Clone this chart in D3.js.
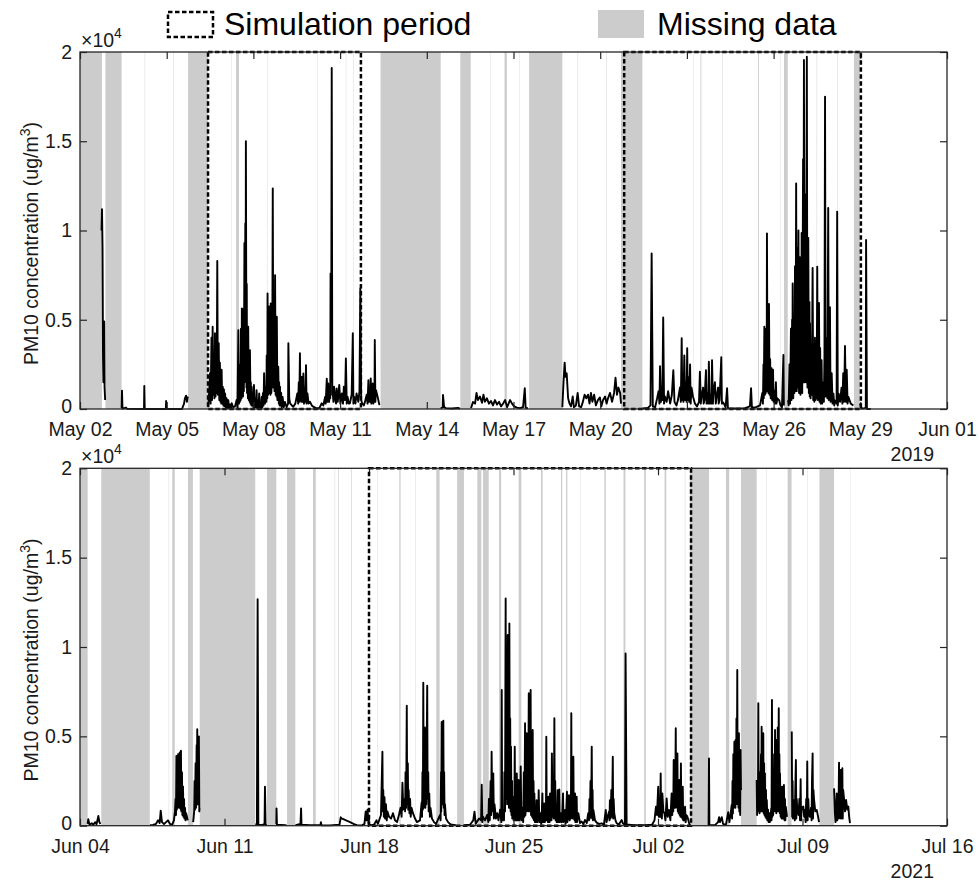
<!DOCTYPE html>
<html>
<head>
<meta charset="utf-8">
<script src="https://cdn.jsdelivr.net/npm/d3@7"></script>
<style>
  body { margin: 0; background: #fff; }
  svg { display: block; font-family: "Liberation Sans", Arial, Helvetica, sans-serif; }
  .tick text { fill: #1a1a1a; font-size: 19.5px; }
  .tick line { stroke: #262626; stroke-width: 1.2px; }
</style>
</head>
<body>
<svg id="chart" width="979" height="884"></svg>
<script>

// tick dates for each panel (first and last also give the x domain)
var ticks2019 = ["2019-05-02","2019-05-05","2019-05-08","2019-05-11","2019-05-14","2019-05-17",
                 "2019-05-20","2019-05-23","2019-05-26","2019-05-29","2019-06-01"];
var ticks2021 = ["2021-06-04","2021-06-11","2021-06-18","2021-06-25","2021-07-02","2021-07-09","2021-07-16"];
var yTicks = [0, 5000, 10000, 15000, 20000];

// simulation periods, [start, end] in days after the first tick
var sim2019 = [[4.43, 9.72], [18.83, 27.02]];
var sim2021 = [[14.0, 29.6]];

// missing data intervals, days after the first tick
var gaps2019 = [[0,0.76],[0.88,1.44],[2.24,2.252],[3.22,3.235],[3.74,4.43],[5.24,5.252],[5.40,5.50],[6.47,6.482],
  [8.2,8.212],[9.2,9.212],[9.45,9.462],[10.40,12.48],[13.16,13.52],[14.21,14.222],[14.69,14.77],[15.2,15.212],
  [15.54,16.69],[17.22,17.235],[18.22,18.235],[18.72,19.46],[21.21,21.222],[21.47,21.5],[22.22,22.235],
  [23.46,23.49],[24.22,24.232],[24.36,24.49],[25.49,25.505],[26.2,26.215],[26.78,26.99]];
var gaps2021 = [[0,0.37],[1.03,3.38],[4.3,4.317],[4.47,4.59],[5.23,5.47],[5.80,8.49],[9.06,9.51],[10.03,10.43],
  [11.29,11.42],[12.34,12.357],[12.5,12.53],[13.14,13.17],[14.39,14.407],[15.47,15.53],[16.24,16.257],[17.26,17.42],
  [18.27,18.6],[19.25,19.44],[19.52,19.8],[20.3,20.4],[21.25,21.38],[22.33,22.41],[23.3,23.36],[23.55,23.61],
  [24.22,24.237],[25.4,25.47],[26.33,26.42],[27.33,27.41],[28.32,28.4],[29.3,29.32],[29.55,30.47],[31.29,31.45],
  [32.02,32.78],[33.26,33.277],[34.28,34.47],[35.25,35.267],[35.82,36.53],[37.3,37.312]];

// PM10 (ug/m3), [day after first tick, value]; null = break in record
var pm2019 = [[0.744,10000],[0.761,11200],[0.78,9000],[0.796,3000],[0.81,1500],[0.837,4900],[0.85,1200],[0.87,500],[0.875,null],
  [1.44,50],[1.453,1030],[1.47,20],[1.59,80],[1.63,10],[2.215,0],[2.225,1290],[2.24,0],[2.97,0],[2.98,450],[2.995,0],
  [3.53,0],[3.6,300],[3.63,600],[3.67,750],[3.7,400],[3.73,700],[3.735,null],
  [4.44,100],[4.5,2000],[4.52,300],[4.55,4000],[4.57,500],[4.59,4610],[4.61,800],[4.63,3000],[4.65,600],[4.67,4250],
  [4.69,700],[4.71,3680],[4.73,900],[4.75,8300],[4.77,800],[4.8,3680],[4.82,500],[4.84,2600],[4.86,400],[4.87,1800],
  [4.89,300],[4.9,2200],[4.92,300],[4.94,1250],[4.96,200],[4.98,1100],[5.0,150],[5.02,870],[5.05,100],[5.07,600],
  [5.1,50],[5.13,500],[5.16,50],[5.19,250],[5.22,30],[5.25,320],[5.3,100],[5.36,130],
  [5.42,500],[5.45,100],[5.48,4420],[5.5,300],[5.51,2500],[5.53,400],[5.54,1060],[5.56,500],[5.57,4500],[5.59,600],
  [5.6,5640],[5.62,800],[5.63,4000],[5.64,700],[5.65,5600],[5.67,1000],[5.69,9300],[5.7,1500],[5.72,10400],[5.73,2000],
  [5.74,15000],[5.76,1200],[5.77,7000],[5.78,900],[5.79,3500],[5.81,600],[5.82,4610],[5.84,500],[5.85,2500],[5.87,400],
  [5.88,3300],[5.9,300],[5.91,1500],[5.93,200],[5.94,1250],[5.96,200],[5.98,800],[6.0,100],[6.02,1350],[6.04,100],
  [6.06,600],[6.09,100],[6.11,1060],[6.13,50],[6.15,500],[6.18,50],[6.2,870],[6.23,50],[6.25,400],[6.27,50],[6.29,680],
  [6.31,100],[6.33,900],[6.35,200],[6.37,2000],[6.4,300],[6.43,1250],[6.45,400],[6.46,3000],[6.48,600],[6.49,6480],
  [6.51,800],[6.52,3500],[6.54,900],[6.55,5740],[6.57,1000],[6.58,4000],[6.59,800],[6.6,5920],[6.62,900],[6.63,1250],
  [6.65,1500],[6.67,12360],[6.69,1200],[6.71,5000],[6.73,1000],[6.75,7500],[6.77,800],[6.78,3000],[6.8,700],[6.81,5170],
  [6.83,500],[6.86,2370],[6.88,300],[6.89,1500],[6.91,200],[6.92,1250],[6.94,200],[6.96,900],[6.98,100],[7.01,680],
  [7.05,100],[7.09,400],[7.15,100],[7.2,300],[7.21,3680],[7.24,600],[7.27,320],[7.33,200],[7.38,130],[7.45,300],
  [7.52,870],[7.55,300],[7.57,1500],[7.59,400],[7.61,3120],[7.63,500],[7.64,1500],[7.66,400],[7.67,1800],[7.7,400],
  [7.73,1990],[7.75,300],[7.77,1200],[7.8,400],[7.82,2460],[7.84,300],[7.87,870],[7.91,300],[7.96,400],[8.02,200],
  [8.07,130],[8.15,60],[8.25,30],[8.3,100],[8.36,320],[8.42,200],[8.48,680],[8.5,300],[8.54,1700],[8.56,400],[8.59,1430],
  [8.62,400],[8.64,1000],[8.66,600],[8.67,7600],[8.69,1500],[8.71,19100],[8.73,800],[8.74,1000],[8.77,400],[8.79,1250],
  [8.83,600],[8.86,300],[8.88,1150],[8.92,400],[8.97,1350],[9.01,300],[9.06,870],[9.1,300],[9.13,1250],[9.17,500],
  [9.2,2830],[9.23,300],[9.26,680],[9.3,300],[9.34,320],[9.4,800],[9.44,4240],[9.46,300],[9.49,680],[9.53,300],[9.57,870],
  [9.63,400],[9.67,1000],[9.7,6760],[9.73,500],[9.76,320],[9.82,200],[9.86,400],[9.92,800],[9.95,300],[9.98,1620],
  [10.0,400],[10.02,900],[10.04,400],[10.06,1710],[10.08,300],[10.1,1000],[10.12,400],[10.13,1430],[10.15,300],
  [10.17,800],[10.19,400],[10.2,3870],[10.22,400],[10.24,1060],[10.3,680],[10.36,220],[10.39,null],
  [12.48,30],[12.55,100],[12.56,790],[12.6,100],[12.66,50],[12.87,30],[13.08,60],[13.15,20],[13.155,null],
  [13.53,50],[13.6,400],[13.67,300],[13.72,900],[13.77,500],[13.84,700],[13.91,350],[13.96,800],[14.01,400],[14.08,600],
  [14.15,300],[14.22,450],[14.29,200],[14.36,500],[14.43,250],[14.5,400],[14.57,150],[14.64,300],[14.71,500],[14.78,100],
  [14.88,500],[14.95,300],[15.02,150],[15.12,80],[15.22,50],[15.33,100],[15.39,1160],[15.42,60],[15.5,40],[15.53,null],
  [16.69,100],[16.73,1500],[16.77,2600],[16.8,1800],[16.84,2000],[16.89,600],[16.94,300],[16.99,150],[17.05,700],
  [17.09,100],[17.16,200],[17.22,900],[17.27,150],[17.34,100],[17.4,400],[17.46,800],[17.52,600],[17.58,800],[17.63,300],
  [17.68,900],[17.73,400],[17.79,800],[17.85,200],[17.92,500],[17.99,650],[18.04,150],[18.1,500],[18.17,700],[18.22,300],
  [18.27,600],[18.34,900],[18.41,400],[18.48,900],[18.53,1750],[18.58,800],[18.63,1200],[18.69,900],[18.72,300],[18.725,null],
  [19.46,30],[19.55,50],[19.65,60],[19.74,200],[19.78,8720],[19.82,150],[19.9,100],[19.97,600],[20.02,1000],[20.05,300],
  [20.07,2400],[20.1,400],[20.12,1200],[20.15,500],[20.18,5130],[20.21,300],[20.24,700],[20.3,400],[20.35,1000],[20.42,300],
  [20.48,800],[20.53,2180],[20.57,400],[20.64,200],[20.69,500],[20.76,1200],[20.79,400],[20.82,3960],[20.84,500],
  [20.86,1500],[20.88,400],[20.91,3000],[20.94,500],[20.97,1500],[20.99,400],[21.01,3400],[21.03,500],[21.05,1800],
  [21.08,400],[21.11,2500],[21.13,300],[21.16,1200],[21.21,700],[21.28,300],[21.35,150],[21.42,400],[21.45,2090],
  [21.48,300],[21.5,600],[21.56,1200],[21.58,300],[21.61,500],[21.66,2180],[21.68,300],[21.71,900],[21.74,300],
  [21.76,2650],[21.79,300],[21.82,800],[21.85,300],[21.87,2740],[21.9,300],[21.92,900],[21.97,1500],[22.0,300],
  [22.02,600],[22.08,1200],[22.1,300],[22.13,500],[22.19,2900],[22.21,300],[22.23,400],[22.28,300],[22.34,100],
  [22.39,1160],[22.42,50],[22.66,30],[23.01,50],[23.18,150],[23.22,1160],[23.25,80],[23.39,100],
  [23.53,200],[23.61,900],[23.63,300],[23.65,2500],[23.66,600],[23.68,4610],[23.7,800],[23.72,3300],[23.73,900],
  [23.74,4500],[23.76,1000],[23.77,9840],[23.79,1000],[23.81,4000],[23.82,900],[23.84,5880],[23.86,800],[23.88,2800],
  [23.9,600],[23.93,2280],[23.95,500],[23.98,2200],[24.0,400],[24.03,1000],[24.05,300],[24.08,1500],[24.1,300],
  [24.13,600],[24.19,500],[24.24,200],[24.29,100],[24.34,3030],[24.355,200],[24.36,null],
  [24.5,500],[24.52,200],[24.55,2500],[24.57,300],[24.6,4500],[24.62,500],[24.64,5000],[24.65,800],[24.66,7040],
  [24.68,600],[24.71,4000],[24.72,900],[24.74,8000],[24.76,1000],[24.78,12640],[24.8,1000],[24.82,9000],[24.84,1200],
  [24.86,10000],[24.88,900],[24.91,8500],[24.93,800],[24.95,6000],[24.96,1000],[24.97,9860],[24.99,900],[25.02,14000],
  [25.03,1500],[25.05,19550],[25.07,1500],[25.1,12000],[25.12,1500],[25.15,19740],[25.17,1200],[25.2,9580],[25.22,900],
  [25.24,6000],[25.25,700],[25.26,4800],[25.28,600],[25.3,3000],[25.32,800],[25.35,7900],[25.37,500],[25.4,3000],
  [25.41,400],[25.43,4000],[25.45,500],[25.47,2500],[25.49,600],[25.51,7970],[25.53,500],[25.55,3000],[25.57,5940],
  [25.59,400],[25.61,3420],[25.63,300],[25.66,2740],[25.68,300],[25.72,1500],[25.74,400],[25.76,3000],[25.78,17500],
  [25.8,700],[25.82,2500],[25.84,4000],[25.86,600],[25.89,11260],[25.91,500],[25.93,3000],[25.95,5700],[25.97,400],
  [25.99,1500],[26.01,2000],[26.04,300],[26.07,860],[26.1,200],[26.12,480],[26.18,300],[26.2,11050],[26.22,200],
  [26.25,860],[26.3,400],[26.35,1200],[26.38,300],[26.41,2000],[26.44,400],[26.47,3530],[26.5,400],[26.53,2200],
  [26.56,300],[26.59,670],[26.67,300],[26.76,200],[26.77,null],
  [26.99,300],[27.05,20],[27.16,50],[27.19,100],[27.2,9470],[27.23,0],[27.36,0]];

var pm2021 = [[0.37,100],[0.40,360],[0.46,50],[0.57,140],[0.65,50],[0.73,200],[0.8,80],[0.89,540],[0.94,200],[0.99,100],[1.02,null],
  [3.39,30],[3.54,40],[3.68,100],[3.78,300],[3.86,150],[3.91,840],[3.97,200],[4.07,100],[4.17,200],[4.26,300],[4.36,100],
  [4.46,50],[4.55,300],[4.6,800],[4.63,1500],[4.65,600],[4.67,3900],[4.69,900],[4.71,2500],[4.73,1000],[4.75,4000],
  [4.77,1200],[4.79,3000],[4.81,1000],[4.83,4100],[4.85,1000],[4.87,3500],[4.88,900],[4.89,4200],[4.91,800],[4.94,3000],
  [4.96,600],[4.99,2200],[5.01,500],[5.04,1500],[5.06,400],[5.09,1000],[5.11,300],[5.14,700],[5.18,500],[5.22,300],[5.23,null],
  [5.48,200],[5.5,400],[5.53,800],[5.55,2500],[5.57,900],[5.6,3500],[5.62,1000],[5.65,4500],[5.66,1500],[5.68,5400],
  [5.7,1200],[5.72,4000],[5.74,1500],[5.76,5000],[5.78,800],[5.79,1000],[5.8,null],
  [8.5,50],[8.57,100],[8.605,12670],[8.64,50],[8.82,30],[8.94,100],[8.96,2180],[8.99,50],[9.05,30],[9.06,null],
  [9.51,100],[9.52,970],[9.54,50],[9.93,30],[10.0,30],[10.02,null],
  [10.44,30],[10.68,100],[10.71,970],[10.73,50],[11.14,30],[11.65,30],[11.67,200],[11.7,20],[12.11,20],[12.57,50],
  [12.63,470],[12.69,400],[12.79,350],[12.89,300],[12.98,250],[13.08,200],[13.18,150],[13.27,80],[13.42,30],[13.66,20],
  [13.78,100],[13.84,800],[13.88,300],[13.93,900],[13.97,200],[13.99,50],
  [14.1,30],[14.24,50],[14.36,300],[14.43,100],[14.58,600],[14.65,4140],[14.67,800],[14.69,2000],[14.72,500],[14.75,1600],
  [14.78,400],[14.82,1200],[14.86,300],[14.89,800],[14.97,500],[15.07,400],[15.16,700],[15.26,300],[15.36,200],[15.45,600],
  [15.53,1000],[15.58,500],[15.62,2400],[15.66,900],[15.72,1500],[15.75,800],[15.77,3000],[15.8,1000],[15.83,6720],
  [15.85,1200],[15.88,3500],[15.9,900],[15.92,2000],[15.96,700],[15.99,1500],[16.02,500],[16.06,1000],[16.13,700],
  [16.23,400],[16.32,200],[16.47,300],[16.55,1300],[16.57,500],[16.59,3000],[16.61,900],[16.63,8000],[16.65,1000],
  [16.67,4000],[16.69,1200],[16.71,5500],[16.73,1000],[16.76,3000],[16.78,1200],[16.8,5000],[16.82,7830],[16.84,1500],
  [16.87,3000],[16.89,800],[16.92,1800],[16.95,500],[16.98,1000],[17.05,400],[17.15,200],[17.25,100],[17.44,600],
  [17.47,300],[17.49,3000],[17.5,800],[17.52,5800],[17.54,1200],[17.56,5000],[17.58,1500],[17.6,5880],[17.62,1000],
  [17.64,3000],[17.66,600],[17.68,1200],[17.73,400],[17.83,200],[17.92,100],[18.02,50],[18.21,30],[18.27,null],
  [18.61,30],[18.89,50],[19.05,300],[19.11,785],[19.17,100],[19.22,200],[19.33,400],[19.43,300],[19.46,2290],[19.49,200],
  [19.52,500],[19.62,300],[19.72,600],[19.78,200],[19.81,1500],[19.85,300],[19.89,2500],[19.92,600],[19.94,4140],
  [19.97,800],[20.02,2930],[20.05,400],[20.08,1200],[20.15,400],[20.21,700],[20.27,300],[20.35,900],[20.41,200],
  [20.43,7590],[20.45,300],[20.47,600],[20.51,880],[20.54,300],[20.56,3000],[20.59,800],[20.62,12720],[20.64,1500],
  [20.67,6000],[20.69,1200],[20.72,10670],[20.74,1500],[20.76,7000],[20.78,1000],[20.8,11320],[20.82,1500],[20.84,6000],
  [20.86,800],[20.88,4420],[20.9,600],[20.93,2500],[20.94,400],[20.96,1620],[21.01,300],[21.04,500],[21.06,4420],
  [21.08,300],[21.1,1500],[21.13,300],[21.16,2930],[21.18,300],[21.2,800],[21.23,300],[21.25,2560],[21.28,300],
  [21.3,1000],[21.33,400],[21.35,3310],[21.38,300],[21.4,1000],[21.44,700],[21.47,200],[21.5,3000],[21.53,500],
  [21.56,5730],[21.58,600],[21.6,3000],[21.62,800],[21.64,5170],[21.66,1000],[21.69,3500],[21.71,800],[21.74,7410],
  [21.76,1000],[21.78,5000],[21.8,800],[21.83,7590],[21.85,600],[21.88,4000],[21.9,500],[21.93,5360],[21.95,400],
  [21.97,2500],[21.99,300],[22.01,1810],[22.04,200],[22.07,600],[22.1,200],[22.12,1430],[22.15,200],[22.17,500],
  [22.2,300],[22.22,1990],[22.25,200],[22.27,400],[22.3,200],[22.32,700],[22.34,100],[22.36,300],[22.4,1810],[22.42,200],
  [22.44,600],[22.47,200],[22.49,1250],[22.52,200],[22.54,400],[22.57,300],[22.59,4980],[22.61,300],[22.64,1000],
  [22.67,200],[22.69,1620],[22.71,200],[22.73,600],[22.75,200],[22.77,1810],[22.8,300],[22.82,800],[22.84,300],
  [22.86,4050],[22.89,500],[22.92,2000],[22.95,400],[22.98,6010],[23.0,500],[23.02,2500],[23.04,300],[23.06,1060],
  [23.09,200],[23.11,400],[23.14,1990],[23.16,200],[23.18,700],[23.2,200],[23.22,2030],[23.24,200],[23.26,500],
  [23.3,700],[23.33,200],[23.35,300],[23.4,1810],[23.42,200],[23.44,400],[23.5,880],[23.52,100],[23.54,300],[23.59,1900],
  [23.61,200],[23.64,500],[23.69,1710],[23.72,300],[23.75,1200],[23.78,400],[23.8,6290],[23.82,500],[23.85,2000],
  [23.87,400],[23.9,3860],[23.92,400],[23.94,1500],[23.96,300],[23.98,1810],[24.0,200],[24.03,800],[24.06,1620],
  [24.08,200],[24.1,400],[24.14,700],[24.22,150],[24.3,230],[24.39,100],[24.46,320],[24.55,150],[24.62,700],[24.66,300],
  [24.68,1500],[24.7,400],[24.73,2500],[24.76,500],[24.79,4420],[24.81,400],[24.83,2000],[24.85,300],[24.87,880],
  [24.95,300],[25.03,170],[25.14,100],[25.27,130],[25.38,50],[25.47,880],[25.51,200],[25.56,510],[25.63,800],[25.65,300],
  [25.67,1430],[25.7,400],[25.74,2000],[25.77,500],[25.81,3860],[25.83,400],[25.85,1500],[25.88,700],[25.94,300],
  [26.0,130],[26.11,80],[26.24,320],[26.3,130],[26.4,50],[26.43,9640],[26.48,70],[26.8,30],[27.13,30],[27.45,30],
  [27.71,50],[27.83,300],[27.9,1060],[27.95,600],[28.01,2180],[28.04,500],[28.07,1500],[28.1,500],[28.13,2930],
  [28.15,500],[28.17,1500],[28.19,400],[28.21,1810],[28.26,800],[28.31,700],[28.36,300],[28.42,1530],[28.47,500],
  [28.53,880],[28.6,300],[28.66,1810],[28.69,600],[28.71,1500],[28.74,800],[28.76,3680],[28.78,1000],[28.81,2500],
  [28.83,1000],[28.86,5450],[28.88,1200],[28.9,3000],[28.92,1000],[28.94,4050],[28.96,800],[28.98,2000],[29.0,700],
  [29.03,2560],[29.05,600],[29.07,1500],[29.09,500],[29.11,3490],[29.13,500],[29.15,1500],[29.18,400],[29.2,2180],
  [29.22,300],[29.25,1000],[29.28,300],[29.31,1060],[29.34,200],[29.37,600],[29.42,510],[29.47,300],[29.51,130],
  [29.54,30],[29.55,null],
  [30.45,30],[30.47,3770],[30.49,30],[30.76,30],[30.91,200],[30.96,480],[31.0,200],[31.09,480],[31.15,100],[31.29,50],
  [31.4,750],[31.46,200],[31.51,600],[31.57,1160],[31.59,400],[31.61,2500],[31.63,700],[31.65,4000],[31.67,1000],
  [31.7,4700],[31.72,1200],[31.73,3500],[31.75,1000],[31.76,4800],[31.78,1200],[31.8,6000],[31.82,1500],[31.84,8710],
  [31.86,1200],[31.88,4500],[31.9,1000],[31.92,5170],[31.94,800],[31.96,3000],[31.98,600],[32.0,4240],[32.02,2000],[32.025,null],
  [32.78,2560],[32.8,600],[32.82,1500],[32.84,800],[32.86,6850],[32.88,800],[32.9,3000],[32.92,700],[32.94,2740],
  [32.96,800],[32.99,4000],[33.0,900],[33.02,5540],[33.04,800],[33.06,3000],[33.08,900],[33.1,5170],[33.12,700],
  [33.14,3500],[33.16,600],[33.18,2930],[33.2,500],[33.23,2000],[33.25,400],[33.27,1440],[33.3,300],[33.33,900],
  [33.36,200],[33.39,700],[33.42,200],[33.45,500],[33.49,1000],[33.5,300],[33.52,7030],[33.54,500],[33.56,2500],
  [33.58,600],[33.59,2930],[33.61,800],[33.63,4000],[33.65,900],[33.67,5360],[33.69,800],[33.71,3000],[33.73,700],
  [33.75,4800],[33.78,800],[33.8,5500],[33.82,900],[33.85,6570],[33.86,800],[33.88,4000],[33.9,700],[33.91,2930],
  [33.94,500],[33.96,2000],[33.99,400],[34.01,2180],[34.04,400],[34.06,1500],[34.08,400],[34.1,2280],[34.13,300],
  [34.15,1500],[34.17,300],[34.19,1070],[34.25,500],[34.27,null],
  [34.48,5270],[34.5,500],[34.52,2500],[34.54,400],[34.56,1440],[34.61,800],[34.63,300],[34.65,2000],[34.68,3680],
  [34.7,400],[34.72,1500],[34.75,880],[34.81,600],[34.85,1500],[34.88,300],[34.91,2600],[34.93,300],[34.96,1000],
  [35.04,1070],[35.08,500],[35.12,880],[35.15,200],[35.18,1500],[35.21,300],[35.23,3590],[35.25,300],[35.28,1500],
  [35.31,700],[35.36,500],[35.41,1000],[35.44,300],[35.46,2500],[35.49,4050],[35.51,400],[35.53,2000],[35.56,1440],
  [35.62,800],[35.69,880],[35.76,480],[35.8,200],[35.81,null],
  [36.53,2090],[36.57,700],[36.6,200],[36.66,1810],[36.68,300],[36.71,1200],[36.74,400],[36.77,3530],[36.79,500],
  [36.81,2500],[36.83,400],[36.85,3120],[36.87,500],[36.89,2500],[36.91,400],[36.93,3220],[36.95,400],[36.97,2000],
  [37.01,1530],[37.06,800],[37.11,1440],[37.17,900],[37.22,1070],[37.26,500],[37.3,140]];


var svg = d3.select("#chart");

var left = 80, right = 947;

var panels = [
  {ticks: ticks2019, top: 52, bottom: 409, year: "2019", series: pm2019, gaps: gaps2019, sims: sim2019},
  {ticks: ticks2021, top: 468.3, bottom: 825.7, year: "2021", series: pm2021, gaps: gaps2021, sims: sim2021}
];

var parse = d3.utcParse("%Y-%m-%d");
var fmt = d3.utcFormat("%b %d");

panels.forEach(function(p) {
  var tickDates = p.ticks.map(parse);
  var t0 = tickDates[0];
  function day(d) { return new Date(t0.getTime() + d * 864e5); }

  var x = d3.scaleUtc()
    .domain([t0, tickDates[tickDates.length - 1]])
    .range([left, right]);
  var y = d3.scaleLinear()
    .domain([0, 20000])
    .range([p.bottom, p.top]);

  var g = svg.append("g");

  // missing data
  g.selectAll("rect.gap")
    .data(p.gaps)
    .join("rect")
      .attr("class", "gap")
      .attr("x", function(d) { return x(day(d[0])); })
      .attr("width", function(d) { return x(day(d[1])) - x(day(d[0])); })
      .attr("y", p.top)
      .attr("height", p.bottom - p.top)
      .attr("fill", "#cccccc");

  // concentration line
  var line = d3.line()
    .defined(function(d) { return d[1] !== null; })
    .x(function(d) { return x(day(d[0])); })
    .y(function(d) { return y(d[1]); });

  g.append("path")
    .datum(p.series)
    .attr("d", line)
    .attr("fill", "none")
    .attr("stroke", "#000")
    .attr("stroke-width", 1.9)
    .attr("stroke-linejoin", "round");

  // axes: ticks point inward on all four sides
  var xb = d3.axisBottom(x).tickValues(tickDates).tickFormat(fmt)
    .tickSizeInner(-7).tickSizeOuter(0).tickPadding(13.5);
  var xt = d3.axisTop(x).tickValues(tickDates).tickFormat("")
    .tickSizeInner(-7).tickSizeOuter(0);
  var yl = d3.axisLeft(y).tickValues(yTicks).tickFormat(function(d) { return d / 1e4; })
    .tickSizeInner(-7).tickSizeOuter(0).tickPadding(8);
  var yr = d3.axisRight(y).tickValues(yTicks).tickFormat("")
    .tickSizeInner(-7).tickSizeOuter(0);

  g.append("g").attr("transform", "translate(0," + p.bottom + ")").call(xb);
  g.append("g").attr("transform", "translate(0," + p.top + ")").call(xt);
  var ylg = g.append("g").attr("transform", "translate(" + left + ",0)").call(yl);
  g.append("g").attr("transform", "translate(" + right + ",0)").call(yr);
  g.selectAll(".domain").remove();
  g.selectAll(".tick text").attr("font-family", null).attr("font-size", null);
  // lift the "0" label a touch so it clears the first date label
  ylg.selectAll(".tick text").filter(function(d) { return d === 0; }).attr("dy", "0.2em");

  // simulation periods
  g.selectAll("rect.sim")
    .data(p.sims)
    .join("rect")
      .attr("class", "sim")
      .attr("x", function(d) { return x(day(d[0])); })
      .attr("width", function(d) { return x(day(d[1])) - x(day(d[0])); })
      .attr("y", y(20000))
      .attr("height", y(0) - y(20000))
      .attr("fill", "none")
      .attr("stroke", "#000")
      .attr("stroke-width", 2.5)
      .attr("stroke-dasharray", "4.5,2.5");

  // box
  g.append("rect")
    .attr("x", left).attr("y", p.top)
    .attr("width", right - left).attr("height", p.bottom - p.top)
    .attr("fill", "none").attr("stroke", "#262626").attr("stroke-width", 1.3);

  // x10^4 exponent
  var ex = g.append("text")
    .attr("x", left + 1).attr("y", p.top - 5.5)
    .attr("fill", "#1a1a1a").attr("font-size", 19.5);
  ex.append("tspan").text("\u00d710");
  ex.append("tspan").attr("font-size", 14).attr("dy", -9).text("4");

  // year under the last tick
  g.append("text")
    .attr("x", 934).attr("y", p.bottom + 52)
    .attr("text-anchor", "end")
    .attr("fill", "#1a1a1a").attr("font-size", 19.5)
    .text(p.year);

  // y label
  var yt = g.append("text")
    .attr("transform", "translate(37.5," + ((p.top + p.bottom) / 2 + 13) + ") rotate(-90)")
    .attr("text-anchor", "middle")
    .attr("fill", "#1a1a1a").attr("font-size", 19.5);
  yt.append("tspan").text("PM10 concentration (ug/m");
  yt.append("tspan").attr("font-size", 14).attr("dy", -8).text("3");
  yt.append("tspan").attr("dy", 8).text(")");
});

// legend
var legend = svg.append("g");
legend.append("rect")
  .attr("x", 168).attr("y", 12).attr("width", 45).attr("height", 25)
  .attr("fill", "none").attr("stroke", "#000").attr("stroke-width", 2.5).attr("stroke-dasharray", "4.5,2.5");
legend.append("text")
  .attr("x", 224).attr("y", 35).attr("font-size", 32).attr("fill", "#000")
  .text("Simulation period");
legend.append("rect")
  .attr("x", 598).attr("y", 10).attr("width", 46).attr("height", 28)
  .attr("fill", "#cccccc");
legend.append("text")
  .attr("x", 657).attr("y", 35).attr("font-size", 32).attr("fill", "#000")
  .text("Missing data");

</script>
</body>
</html>
